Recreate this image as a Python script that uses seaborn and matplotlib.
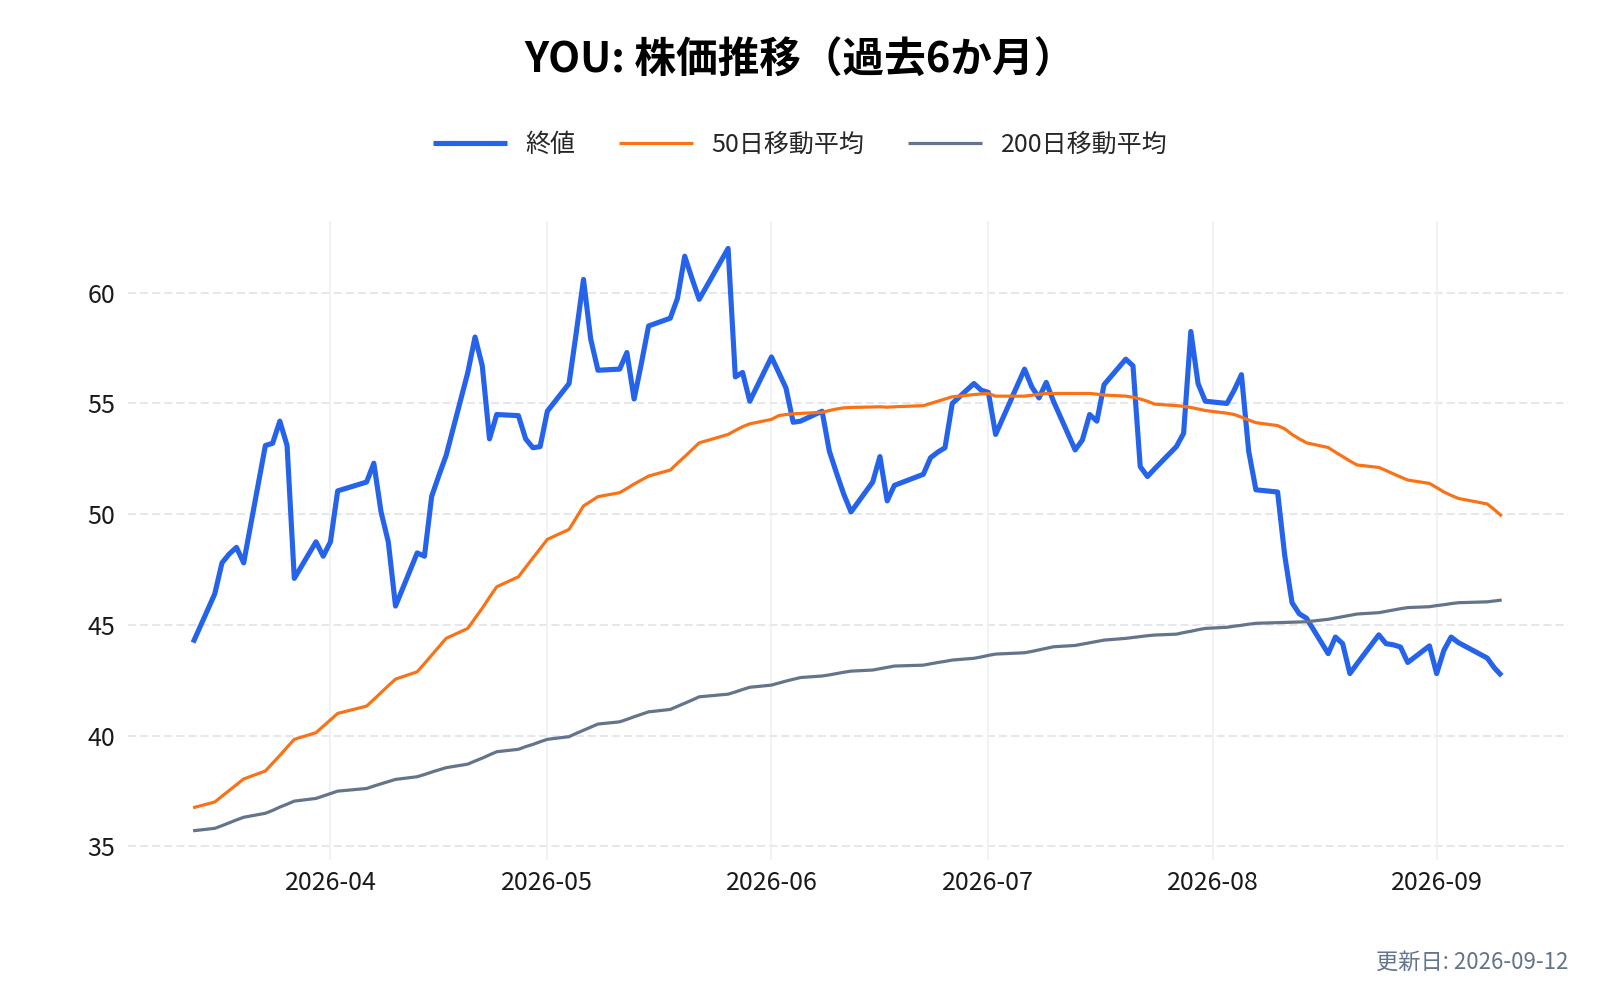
import numpy as np
import pandas as pd
import matplotlib
matplotlib.use("Agg")
import matplotlib.pyplot as plt
import matplotlib.dates as mdates
import seaborn as sns

# ---- data (NYSE trading days, 2026-03-13 .. 2026-09-10) ----
holidays = ["2026-04-03", "2026-05-25", "2026-06-19", "2026-07-03", "2026-09-07"]
dates = pd.bdate_range("2026-03-13", "2026-09-10")
dates = dates[~dates.isin(pd.to_datetime(holidays))]

close = [
    44.2,
    46.4, 47.8, 48.2, 48.5, 47.8,
    53.1, 53.2, 54.2, 53.1, 47.1,
    48.75, 48.1, 48.75, 51.05,
    51.45, 52.3, 50.1, 48.75, 45.85,
    48.25, 48.1, 50.8, 51.75, 52.65,
    56.4, 58.0, 56.7, 53.4, 54.5,
    54.45, 53.4, 53.0, 53.05, 54.65,
    55.9, 58.2, 60.6, 57.9, 56.5,
    56.55, 57.3, 55.2, 56.8, 58.5,
    58.85, 59.75, 61.65, 60.65, 59.7,
    62.0, 56.2, 56.4, 55.1,
    57.1, 56.4, 55.7, 54.15, 54.2,
    54.65, 52.85, 51.85, 50.9, 50.1,
    51.45, 52.6, 50.6, 51.3,
    51.8, 52.55, 52.8, 53.0, 55.0,
    55.9, 55.6, 55.5, 53.6,
    56.55, 55.75, 55.25, 55.95, 55.1,
    52.9, 53.35, 54.5, 54.2, 55.85,
    57.0, 56.7, 52.15, 51.7, 52.05,
    53.05, 53.65, 58.25, 55.9, 55.1,
    55.0, 55.6, 56.3, 52.85, 51.1,
    51.0, 48.1, 46.0, 45.5, 45.3,
    43.7, 44.45, 44.15, 42.8, 43.25,
    44.55, 44.15, 44.1, 44.0, 43.3,
    44.05, 42.8, 43.85, 44.45, 44.2,
    43.5, 43.05, 42.7,
]

ma50 = [
    36.74,
    37.0, 37.26, 37.52, 37.78, 38.04,
    38.4, 38.75, 39.1, 39.47, 39.83,
    40.13, 40.42, 40.71, 41.0,
    41.33, 41.63, 41.94, 42.25, 42.55,
    42.88, 43.25, 43.63, 44.01, 44.39,
    44.84, 45.3, 45.75, 46.25, 46.72,
    47.17, 47.6, 48.02, 48.44, 48.86,
    49.31, 49.84, 50.37, 50.58, 50.79,
    50.97, 51.16, 51.36, 51.54, 51.72,
    51.99, 52.3, 52.6, 52.91, 53.22,
    53.6, 53.78, 53.95, 54.08,
    54.28, 54.45, 54.5, 54.53, 54.55,
    54.6, 54.68, 54.75, 54.8, 54.82,
    54.84, 54.85, 54.83, 54.85,
    54.9, 55.0, 55.1, 55.2, 55.3,
    55.4, 55.43, 55.45, 55.33,
    55.33, 55.37, 55.41, 55.45, 55.45,
    55.45, 55.45, 55.45, 55.42, 55.38,
    55.33, 55.28, 55.2, 55.1, 54.97,
    54.9, 54.87, 54.82, 54.75, 54.68,
    54.56, 54.5, 54.38, 54.25, 54.13,
    54.0, 53.85, 53.6, 53.4, 53.22,
    53.01, 52.8, 52.6, 52.4, 52.22,
    52.11, 51.97, 51.82, 51.68, 51.54,
    51.39, 51.2, 51.0, 50.85, 50.71,
    50.46, 50.2, 49.91,
]

ma200 = [
    35.7,
    35.81, 35.93, 36.06, 36.19, 36.31,
    36.49, 36.62, 36.77, 36.9, 37.04,
    37.16, 37.27, 37.38, 37.49,
    37.61, 37.72, 37.82, 37.92, 38.02,
    38.14, 38.24, 38.35, 38.45, 38.55,
    38.71, 38.85, 38.98, 39.13, 39.27,
    39.38, 39.5, 39.6, 39.72, 39.83,
    39.95, 40.1, 40.24, 40.38, 40.52,
    40.62, 40.73, 40.85, 40.96, 41.07,
    41.18, 41.32, 41.46, 41.6, 41.75,
    41.87, 41.97, 42.08, 42.18,
    42.28, 42.37, 42.46, 42.54, 42.62,
    42.69, 42.74, 42.8, 42.86, 42.91,
    42.96, 43.02, 43.08, 43.14,
    43.18, 43.24, 43.3, 43.35, 43.41,
    43.49, 43.55, 43.62, 43.68,
    43.74, 43.8, 43.87, 43.94, 44.01,
    44.07, 44.13, 44.19, 44.25, 44.31,
    44.39, 44.43, 44.47, 44.51, 44.54,
    44.58, 44.65, 44.71, 44.78, 44.84,
    44.89, 44.94, 44.98, 45.03, 45.07,
    45.1, 45.11, 45.12, 45.13, 45.14,
    45.25, 45.31, 45.37, 45.43, 45.49,
    45.55, 45.61, 45.67, 45.73, 45.78,
    45.82, 45.87, 45.91, 45.96, 46.0,
    46.04, 46.08, 46.12,
]

series_labels = ["終値", "50日移動平均", "200日移動平均"]
title_text = "YOU: 株価推移（過去6か月）"
footer_text = "更新日: 2026-09-12"
y_ticks = [35, 40, 45, 50, 55, 60]

# ---- styling ----
colors = ["#2563EB", "#F97316", "#64748B"]
widths = [3.7, 2.3, 2.3]

df = pd.DataFrame({"date": dates, series_labels[0]: close,
                   series_labels[1]: ma50, series_labels[2]: ma200})
long = df.melt(id_vars="date", var_name="series", value_name="value")

sns.set_theme(style="white")
plt.rcParams["font.family"] = ["Noto Sans CJK JP", "DejaVu Sans"]

fig = plt.figure(figsize=(16, 10), dpi=100)
ax = fig.add_axes([0.08, 0.14, 0.90, 0.639])

for lab, col, lw in zip(series_labels, colors, widths):
    sns.lineplot(data=long[long["series"] == lab], x="date", y="value",
                 color=col, linewidth=lw, ax=ax, label=lab,
                 solid_joinstyle="round", solid_capstyle="butt")

ax.set_xlim(pd.Timestamp("2026-03-04"), pd.Timestamp("2026-09-19 04:00"))
ax.set_ylim(34.38, 63.24)
ax.set_yticks(y_ticks)
ax.xaxis.set_major_locator(mdates.MonthLocator(bymonth=[4, 5, 6, 7, 8, 9]))
ax.xaxis.set_major_formatter(mdates.DateFormatter("%Y-%m"))
ax.set_xlabel("")
ax.set_ylabel("")

for s in ax.spines.values():
    s.set_visible(False)
ax.tick_params(axis="both", length=0, labelsize=18, colors="#1a1a1a")
ax.tick_params(axis="y", pad=9)
ax.tick_params(axis="x", pad=7)

ax.grid(False)
for t in y_ticks:
    ax.axhline(t, color="#E3E5EA", linewidth=1.3, linestyle=(0, (4.5, 2.2)), zorder=0)
for m in range(4, 10):
    ax.axvline(pd.Timestamp(f"2026-{m:02d}-01"), color="#EEF1F5", linewidth=1.2, zorder=0)

handles, labels = ax.get_legend_handles_labels()
ax.get_legend().remove()
fig.legend(handles, labels, loc="center", bbox_to_anchor=(0.5, 0.855), ncol=3,
           frameon=False, fontsize=18, handlelength=2.95, handletextpad=0.75,
           columnspacing=1.75)

fig.text(0.5, 0.939, title_text, ha="center", va="center", fontsize=30,
         fontweight="bold", color="#000000")
fig.text(0.98, 0.038, footer_text, ha="right", va="center", fontsize=16,
         color="#64748B")

fig.savefig("out.png", dpi=100, facecolor="white")
